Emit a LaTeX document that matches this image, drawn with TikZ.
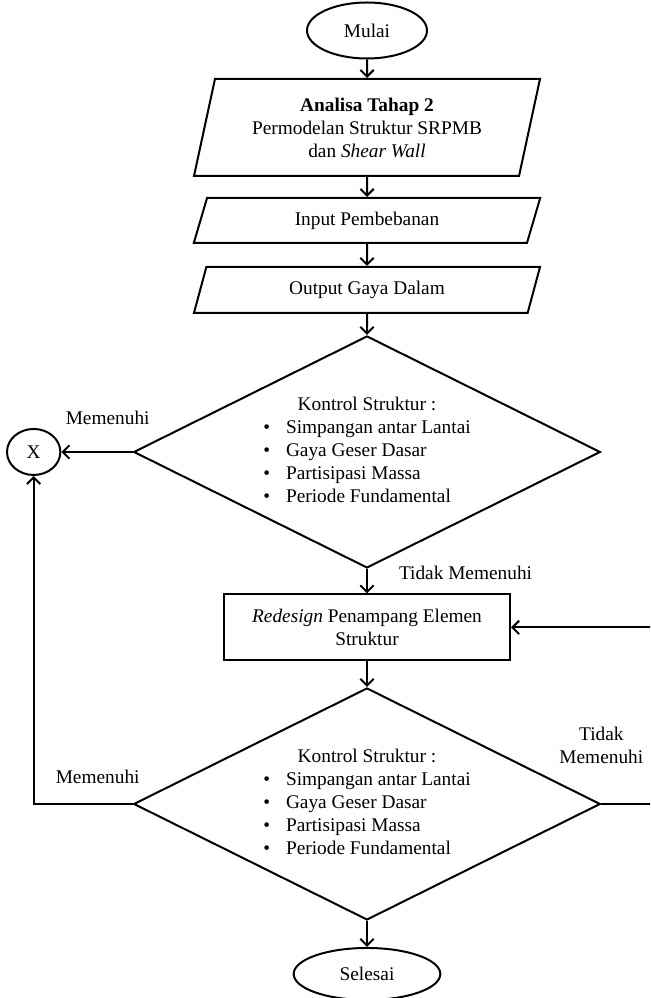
\documentclass[tikz,border=0pt]{standalone}
\usepackage{fontspec}
\setmainfont{Liberation Serif}
\usetikzlibrary{arrows.meta,shapes.geometric}

\begin{document}
\begin{tikzpicture}[->,>={Straight Barb[length=5pt,width=10pt]},line width=1.5pt,
  every node/.style={font=\fontsize{14.5}{17.25}\selectfont},
  term node/.style={ellipse,draw,minimum width=90pt,minimum height=42pt,inner sep=0pt},
  io node/.style={trapezium,trapezium left angle=76.5,trapezium right angle=103.5,
    trapezium stretches=true,draw,minimum width=260pt,align=center},
  proc node/.style={rectangle,draw,minimum width=214.5pt,minimum height=49.5pt,align=center},
  dec node/.style={diamond,draw,aspect=2,inner sep=0pt,minimum width=350pt,minimum height=174pt},
  con node/.style={ellipse,draw,minimum width=40pt,minimum height=34.5pt,inner sep=0pt},
  lbl node/.style={inner sep=0pt,align=center}]

  \path[use as bounding box,-] (-275.25pt,-725.625pt) rectangle (212.25pt,22.875pt);
  \clip[-] (-275.25pt,-725.625pt) rectangle (212.25pt,22.875pt);

  \node[term node] (start) {Mulai};
  \node[io node,minimum height=72.75pt] (model) [node distance=72.75pt,below of=start]
    {\textbf{Analisa Tahap 2}\\Permodelan Struktur SRPMB\\dan \textit{Shear Wall}};
  \node[io node,minimum height=33.75pt] (load) [node distance=69.75pt,below of=model] {Input Pembebanan};
  \node[io node,minimum height=34.5pt] (force) [node distance=52.1pt,below of=load] {Output Gaya Dalam};
  \node[dec node] (check1) [node distance=121.5pt,below of=force] {\begin{tabular}{@{}c@{\hspace{12pt}}l@{}}
    \multicolumn{2}{c}{Kontrol Struktur :}\\
    \textbullet & Simpangan antar Lantai\\
    \textbullet & Gaya Geser Dasar\\
    \textbullet & Partisipasi Massa\\
    \textbullet & Periode Fundamental
  \end{tabular}};
  \node[proc node] (redesign) [node distance=131.6pt,below of=check1]
    {\textit{Redesign} Penampang Elemen\\Struktur};
  \node[dec node] (check2) [node distance=132.4pt,below of=redesign] {\begin{tabular}{@{}c@{\hspace{12pt}}l@{}}
    \multicolumn{2}{c}{Kontrol Struktur :}\\
    \textbullet & Simpangan antar Lantai\\
    \textbullet & Gaya Geser Dasar\\
    \textbullet & Partisipasi Massa\\
    \textbullet & Periode Fundamental
  \end{tabular}};
  \node[term node,minimum width=110pt,minimum height=39pt] (finish) [node distance=127.5pt,below of=check2] {Selesai};
  \node[con node] (X) [node distance=250pt,left of=check1] {X};

  % label cabang
  \node[lbl node] (yes1) at ([shift={(-18.75pt,25.5pt)}]check1.west) {Memenuhi};
  \node[lbl node] (no1) at ([shift={(73.9pt,-3pt)}]check1.south) {Tidak Memenuhi};
  \node[lbl node] (yes2) at ([shift={(-26.25pt,20.25pt)}]check2.west) {Memenuhi};
  \node[lbl node] (no2) at ([yshift=44.25pt]check2.east) {Tidak\\Memenuhi};

  \coordinate (back) at ([xshift=45pt]check2.east);

  \path
    (start) edge (model)
    (model) edge (load)
    (load) edge (force)
    (force) edge (check1)
    (check1) edge (redesign)
    (redesign) edge (check2)
    (check2) edge (finish)
    (check1.west) edge (X)
    ;

  \draw (check2.west) -| (X);
  \draw (check2.east) -- (back) |- (redesign);

\end{tikzpicture}
\end{document}
